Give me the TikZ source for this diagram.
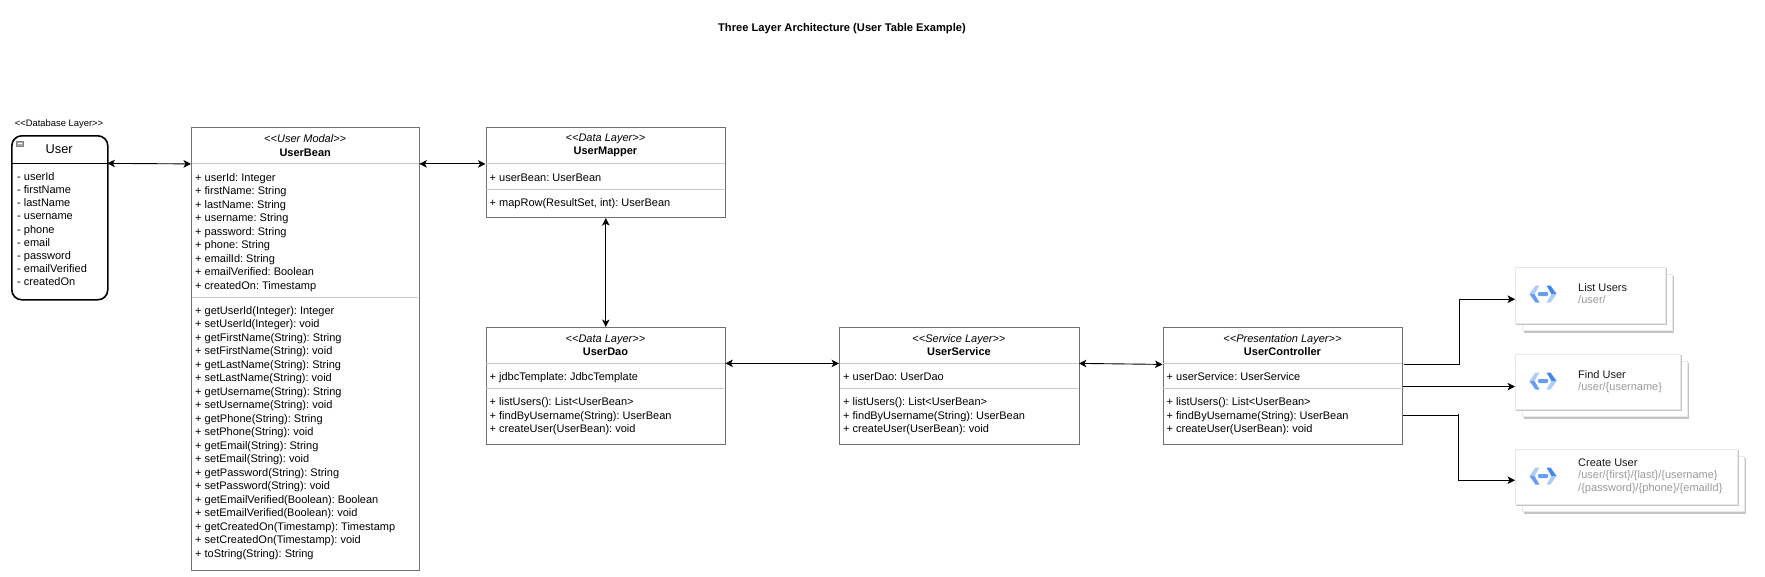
\documentclass[tikz,border=0pt]{standalone}
\usepackage{fontspec}
\setmainfont{Liberation Sans}
\usetikzlibrary{arrows.meta}
\definecolor{boxline}{HTML}{707070}
\definecolor{divline}{HTML}{C8C8C8}
\definecolor{cardline}{HTML}{E8E8E8}
\definecolor{cardshadow}{HTML}{C4C4C4}
\definecolor{pathgrey}{HTML}{9A9A9A}
\definecolor{iconlight}{HTML}{AECBFA}
\definecolor{iconmid}{HTML}{669DF6}
\definecolor{icondark}{HTML}{4285F4}
\newcommand\stereo[1]{\textit{<{}<#1>{}>}}
\newcommand\firstline{\rule{0pt}{11pt}}
\frenchspacing
\tikzset{
  x=1pt,y=-1pt,
  bodyfont/.style={font=\fontsize{11}{13.5}\selectfont},
  classbox/.style={draw=boxline,line width=1.1pt,fill=white,inner sep=0pt,anchor=north west},
  classhead/.style={inner sep=0pt,anchor=north west,align=center,bodyfont},
  divider/.style={draw=divline,line width=1pt},
  members/.style={inner sep=0pt,anchor=north west,align=left,bodyfont},
  link/.style={draw=black,line width=0.9pt,-{Stealth[length=7.5pt,width=7.5pt,inset=2pt]}},
  biLink/.style={draw=black,line width=0.9pt,{Stealth[length=7.5pt,width=7.5pt,inset=2pt]}-{Stealth[length=7.5pt,width=7.5pt,inset=2pt]}},
  cardfront/.style={fill=white,draw=cardline,line width=.5pt,inner sep=0pt,anchor=north west},
  cardtitle/.style={inner sep=0pt,anchor=west,bodyfont,text=black!90},
  cardpath/.style={inner sep=0pt,anchor=north west,align=left,bodyfont,text=pathgrey},
}
% name, x, y, width, head height, second divider offset, height, head text
\newcommand\umlclass[8]{%
  \node[classbox,minimum width=#4pt,minimum height=#7pt] (#1) at (#2,#3) {};
  \node[classhead,minimum width=#4pt,minimum height=#5pt] (#1h) at (#2,#3) {#8};
  \draw[divider] ([xshift=.6pt]#1h.south west) -- ([xshift=-.6pt]#1h.south east);
  \coordinate (#1d) at ([yshift=-#6pt]#1.north west);
  \draw[divider] ([xshift=.6pt]#1d) -- ([xshift=#4pt-.6pt]#1d);
}
% name, x, y, width, height, icon centre y
\newcommand\apicard[6]{%
  \fill[cardshadow] (#2+9,#3+9) rectangle (#2+#4+9,#3+#5+10);
  \fill[white] (#2+7,#3+7) rectangle (#2+#4+7,#3+#5+7);
  \draw[cardline,line width=.5pt] (#2+7,#3+7) rectangle (#2+#4+7,#3+#5+7);
  \fill[cardshadow] (#2+1,#3+#5) rectangle (#2+#4+2,#3+#5+2);
  \fill[cardshadow] (#2+#4,#3+1) rectangle (#2+#4+2,#3+#5+2);
  \node[cardfront,minimum width=#4pt,minimum height=#5pt] (#1) at (#2,#3) {};
  \begin{scope}[shift={(#2+28,#6)}]
    \fill[iconlight] (-13.5,0) -- (-7.5,-8.5) -- (-3.5,-8.5) -- (-8.5,0) -- cycle;
    \fill[iconmid] (-13.5,0) -- (-7.5,8.5) -- (-3.5,8.5) -- (-8.5,0) -- cycle;
    \fill[icondark] (13.5,0) -- (7.5,-8.5) -- (3.5,-8.5) -- (8.5,0) -- cycle;
    \fill[iconlight] (13.5,0) -- (7.5,8.5) -- (3.5,8.5) -- (8.5,0) -- cycle;
    \fill[iconmid,rounded corners=1pt] (-5,-2) rectangle (5,2);
  \end{scope}
}
\begin{document}
\begin{tikzpicture}
\useasboundingbox (0,0) rectangle (1765,576);
\node[inner sep=0pt,font=\fontsize{11.15}{14}\selectfont\bfseries] (title) at (842,29) {Three Layer Architecture (User Table Example)};

% database table
\node[inner sep=0pt,font=\fontsize{9.4}{12}\selectfont] (dblabel) at (59,124) {<{}<Database Layer>{}>};
\node[draw=black,line width=1.6pt,rounded corners=10pt,fill=white,inner sep=0pt,anchor=north west,minimum width=96pt,minimum height=164pt] (user) at (11,135) {};
\node[inner sep=0pt,anchor=north west,minimum width=96pt,minimum height=28pt,font=\fontsize{12.8}{16}\selectfont] (userh) at (11,135) {User};
\draw[black,line width=1.6pt] (userh.south west) -- (userh.south east);
\fill[gray!70,draw=gray] (16.5,141) rectangle (23,146);
\draw[white,line width=.6pt] (18,143.5) -- (21.5,143.5);
\node[members,font=\fontsize{11}{13.2}\selectfont] (usercols) at (17,169) {\firstline - userId\\- firstName\\- lastName\\- username\\- phone\\- email\\- password\\- emailVerified\\- createdOn};

\umlclass{bean}{191}{127}{228}{36.5}{170}{443}{\stereo{User Modal}\\\textbf{UserBean}}
\node[members] (beanattrs) at (195,170) {\firstline + userId: Integer\\+ firstName: String\\+ lastName: String\\+ username: String\\+ password: String\\+ phone: String\\+ emailId: String\\+ emailVerified: Boolean\\+ createdOn: Timestamp};
\node[members] (beanops) at (195,303) {\firstline + getUserId(Integer): Integer\\+ setUserId(Integer): void\\+ getFirstName(String): String\\+ setFirstName(String): void\\+ getLastName(String): String\\+ setLastName(String): void\\+ getUsername(String): String\\+ setUsername(String): void\\+ getPhone(String): String\\+ setPhone(String): void\\+ getEmail(String): String\\+ setEmail(String): void\\+ getPassword(String): String\\+ setPassword(String): void\\+ getEmailVerified(Boolean): Boolean\\+ setEmailVerified(Boolean): void\\+ getCreatedOn(Timestamp): Timestamp\\+ setCreatedOn(Timestamp): void\\+ toString(String): String};

\umlclass{mapper}{485.5}{127}{239.5}{36.5}{62}{90}{\stereo{Data Layer}\\\textbf{UserMapper}}
\node[members] (mapperattrs) at (489.5,170) {\firstline + userBean: UserBean};
\node[members] (mapperops) at (489.5,195) {\firstline + mapRow(ResultSet, int): UserBean};

\umlclass{dao}{485.5}{327}{239.5}{36}{61}{116.5}{\stereo{Data Layer}\\\textbf{UserDao}}
\node[members] (daoattrs) at (489.5,369) {\firstline + jdbcTemplate: JdbcTemplate};
\node[members] (daoops) at (489.5,394.5) {\firstline + listUsers(): List<UserBean>\\+ findByUsername(String): UserBean\\+ createUser(UserBean): void};

\umlclass{service}{839}{327}{239.5}{36}{61}{116.5}{\stereo{Service Layer}\\\textbf{UserService}}
\node[members] (serviceattrs) at (843,369) {\firstline + userDao: UserDao};
\node[members] (serviceops) at (843,394.5) {\firstline + listUsers(): List<UserBean>\\+ findByUsername(String): UserBean\\+ createUser(UserBean): void};

\umlclass{controller}{1162.5}{327}{239.5}{36}{61}{116.5}{\stereo{Presentation Layer}\\\textbf{UserController}}
\node[members] (controllerattrs) at (1166.5,369) {\firstline + userService: UserService};
\node[members] (controllerops) at (1166.5,394.5) {\firstline + listUsers(): List<UserBean>\\+ findByUsername(String): UserBean\\+ createUser(UserBean): void};

% API cards
\apicard{listcard}{1515}{267}{150}{56}{294}
\apicard{findcard}{1515}{354}{165}{55}{381}
\apicard{createcard}{1515}{449}{222}{55}{476}
\node[cardtitle] (listtitle) at (1578,288) {List Users};
\node[cardpath] (listpath) at (1578,295) {/user/};
\node[cardtitle] (findtitle) at (1578,375) {Find User};
\node[cardpath] (findpath) at (1578,382) {/user/\{username\}};
\node[cardtitle] (createtitle) at (1578,463) {Create User};
\node[cardpath] (createpath) at (1578,470) {/user/\{first\}/\{last\}/\{username\}\\/\{password\}/\{phone\}/\{emailId\}};

% connectors
\draw[biLink] (userh.south east) -- (beanh.south west);
\draw[biLink] (beanh.south east) -- (mapperh.south west);
\draw[biLink] (mapper.south) -- (dao.north);
\draw[biLink] (daoh.south east) -- (serviceh.south west);
\draw[biLink] (serviceh.south east) -- ([yshift=-1pt]controllerh.south west);
\coordinate (listout) at ([xshift=2pt,yshift=-1pt]controllerh.south east);
\coordinate (findout) at ([yshift=58pt]controller.south east);
\coordinate (createout) at ([yshift=29.5pt]controller.south east);
\coordinate (listin) at ([yshift=-4pt]listcard.west);
\coordinate (findin) at (findcard.west |- findout);
\coordinate (createin) at ([yshift=-3.5pt]createcard.west);
\coordinate (listbend) at (1459,364);
\coordinate (createbend) at (1458,414);
\draw[link,rounded corners=0pt] (listout) -| (listbend) |- (listin);
\draw[link] (findout) -- (findin);
\draw[link,rounded corners=0pt] (createout) -| (createbend) |- (createin);
\end{tikzpicture}
\end{document}
